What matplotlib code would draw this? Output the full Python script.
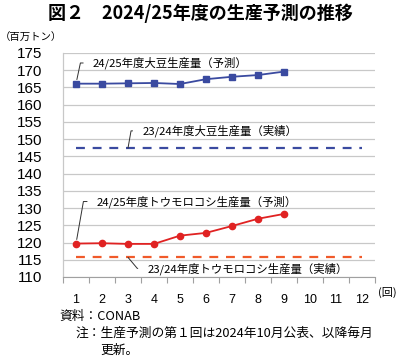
import matplotlib
matplotlib.use("Agg")
import matplotlib.pyplot as plt

plt.rcParams['font.family'] = ['Noto Sans CJK JP', 'DejaVu Sans']

rounds = list(range(1, 13))
xtick_labels = [str(i) for i in rounds]
soy_forecast = [166.1, 166.1, 166.2, 166.3, 166.0, 167.4, 168.1, 168.6, 169.6]
soy_actual = [147.4] * 12
corn_forecast = [119.7, 119.8, 119.6, 119.6, 122.0, 122.8, 124.8, 126.9, 128.3]
corn_actual = [115.7] * 12
yticks = list(range(110, 176, 5))

title = "図２　2024/25年度の生産予測の推移"
unit_label = "（百万トン）"
x_unit = "(回)"
lbl_soy_f = "24/25年度大豆生産量（予測）"
lbl_soy_a = "23/24年度大豆生産量（実績）"
lbl_corn_f = "24/25年度トウモロコシ生産量（予測）"
lbl_corn_a = "23/24年度トウモロコシ生産量（実績）"
source = "資料：CONAB"
note1 = "注：生産予測の第１回は2024年10月公表、以降毎月"
note2 = "更新。"

blue = "#3a4aa0"
red = "#e02222"
orange = "#f05a2a"

fig = plt.figure(figsize=(4.0, 3.61), dpi=100)
ax = fig.add_axes([0.1575, 0.2327, 0.78, 0.6205])

ax.plot(rounds[:len(soy_forecast)], soy_forecast, color=blue, lw=1.3,
        marker='s', ms=4.5, zorder=3)
ax.plot(rounds, soy_actual, color=blue, lw=1.6, ls=(0, (4, 3.5)), zorder=3)
ax.plot(rounds[:len(corn_forecast)], corn_forecast, color=red, lw=1.3,
        marker='o', ms=4.5, zorder=3)
ax.plot(rounds, corn_actual, color=orange, lw=1.6, ls=(0, (4, 3.5)), zorder=3)

ax.set_xlim(0.5, 12.5)
ax.set_ylim(110, 175)
ax.set_yticks(yticks)
ax.set_yticklabels([str(v) for v in yticks], fontfamily='Liberation Sans', fontsize=11)
ax.set_xticks(rounds)
ax.set_xticklabels(xtick_labels, fontfamily='Liberation Sans', fontsize=9)
ax.set_xticks([i + 0.5 for i in range(0, 13)], minor=True)
ax.tick_params(axis='x', which='major', length=0, pad=12)
ax.tick_params(axis='x', which='minor', length=4, color='#a0a0a0', width=0.8)
ax.tick_params(axis='y', length=0, pad=15)
ax.grid(axis='y', color='#c8c8c8', lw=0.9)
for s in ['top', 'right']:
    ax.spines[s].set_visible(False)
ax.spines['left'].set_color('#c8c8c8')
ax.spines['bottom'].set_color('#a0a0a0')
ax.spines['left'].set_linewidth(0.9)

def label(text, xy, xytext, angleB, shrinkB):
    ax.annotate(text, xy=xy, xytext=xytext, fontsize=8.2, ha='left', va='center',
                arrowprops=dict(arrowstyle='-', color='#303030', lw=0.7,
                                shrinkA=5, shrinkB=shrinkB, relpos=(0, 0.5),
                                connectionstyle=f'angle,angleA=0,angleB={angleB},rad=0'))

label(lbl_soy_f, (1, soy_forecast[0]), (1.65, 172.1), 78, 3)
label(lbl_soy_a, (3, soy_actual[0]), (3.55, 152.4), 80, 0)
label(lbl_corn_f, (1, corn_forecast[0]), (1.8, 131.9), 80, 3)
label(lbl_corn_a, (3, corn_actual[0]), (3.75, 112.5), -50, 0)

fig.text(0.5, 0.962, title, ha='center', va='center', fontsize=13, fontweight='bold')
fig.text(0.0, 0.895, unit_label, ha='left', va='center', fontsize=7.5)
fig.text(0.946, 0.189, x_unit, ha='left', va='center', fontsize=8)
fig.text(0.148, 0.124, source, ha='left', va='center', fontsize=9.2)
fig.text(0.19, 0.077, note1, ha='left', va='center', fontsize=9.2)
fig.text(0.25, 0.030, note2, ha='left', va='center', fontsize=9.2)

fig.savefig("out.png", dpi=100, facecolor='white')
